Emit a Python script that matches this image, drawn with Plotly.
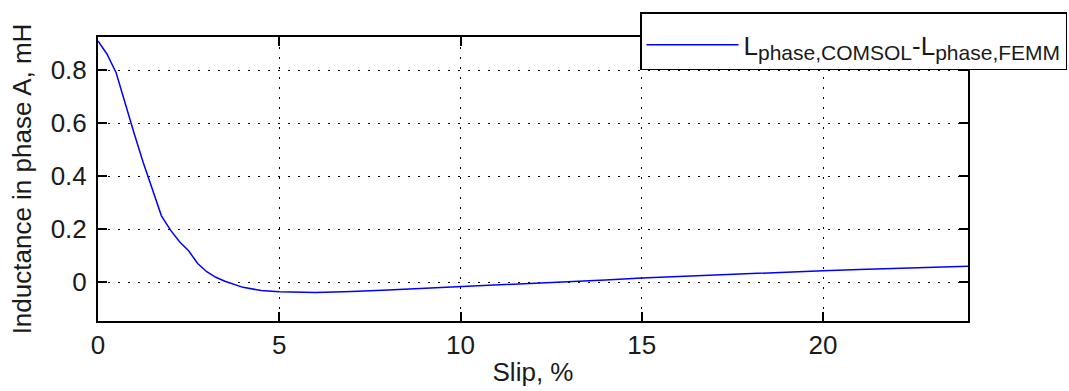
import plotly.graph_objects as go

slip = [0, 0.25, 0.5, 0.75, 1, 1.25, 1.5, 1.75, 2, 2.25, 2.5, 2.75, 3, 3.25, 3.5, 4, 4.5,
        5, 6, 7, 8, 9, 10, 11, 12, 13, 14, 15, 16, 17, 18, 19, 20, 21, 22, 23, 24]
dL = [0.91, 0.86, 0.79, 0.67, 0.56, 0.45, 0.35, 0.25, 0.196, 0.152, 0.118, 0.07, 0.039,
      0.018, 0.003, -0.02, -0.032, -0.037, -0.039, -0.036, -0.030, -0.024, -0.016,
      -0.010, -0.004, 0.002, 0.008, 0.015, 0.021, 0.027, 0.033, 0.038, 0.043, 0.047,
      0.051, 0.055, 0.060]
xticks = [0, 5, 10, 15, 20]
yticks = [0, 0.2, 0.4, 0.6, 0.8]
ytick_text = ["0", "0.2", "0.4", "0.6", "0.8"]

legend_name = ('L<sub><span style="font-size:21px">phase,COMSOL</span></sub>-'
               'L<sub><span style="font-size:21px">phase,FEMM</span></sub>')

fig = go.Figure()
fig.add_trace(go.Scatter(x=slip, y=dL, mode="lines", name=legend_name,
                         line=dict(color="rgb(0,0,255)", width=1.5)))

font = dict(family="Liberation Sans, Arial, sans-serif", size=26, color="#1a1a1a")
axis_common = dict(showline=True, linecolor="black", linewidth=2, mirror="ticks",
                   ticks="inside", ticklen=9, tickwidth=2, tickcolor="black",
                   showgrid=True, gridcolor="black", gridwidth=1,
                   griddash="1.5px,8.5px", zeroline=False, tickfont=font,
                   automargin=False)

fig.update_layout(
    width=1069, height=391,
    margin=dict(l=98, r=101, t=37, b=70, autoexpand=False),
    paper_bgcolor="white", plot_bgcolor="white",
    font=font,
    showlegend=True,
    legend=dict(x=0.623, y=1.088, xanchor="left", yanchor="top",
                bgcolor="white", bordercolor="black", borderwidth=1.5,
                itemwidth=92,
                title=dict(text=" ", font=dict(size=6)),
                font=dict(family="Liberation Sans, Arial, sans-serif", size=26, color="#1a1a1a")),
)
fig.update_xaxes(range=[0, 24], tickvals=xticks, ticktext=[str(v) for v in xticks],
                 title=dict(text="Slip, %", font=font, standoff=4), **axis_common)
fig.update_yaxes(range=[-0.147, 0.925], tickvals=yticks, ticktext=ytick_text,
                 ticklabelstandoff=4,
                 title=dict(text="Inductance in phase A, mH", font=font, standoff=12),
                 **axis_common)

fig.write_html("out.html", config={"displayModeBar": False},
               post_script="document.body.style.margin='0';document.body.style.overflow='hidden';")
